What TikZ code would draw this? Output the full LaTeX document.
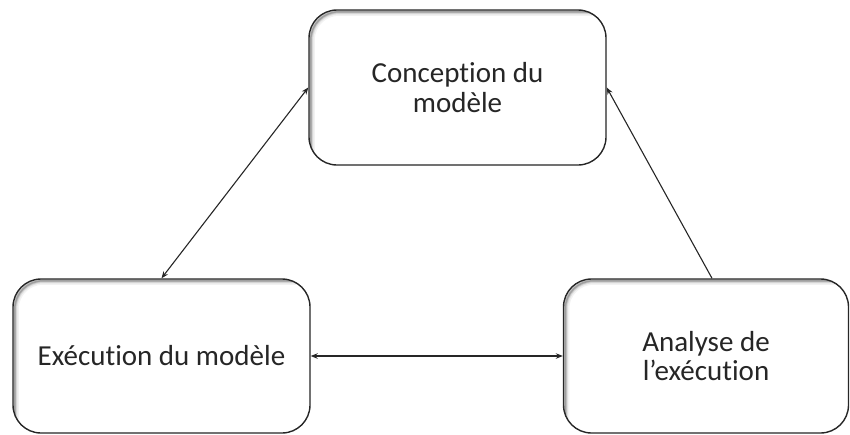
\documentclass[tikz,border=0pt]{standalone}
\usepackage{fontspec}
\setmainfont[Ligatures=NoCommon]{Carlito}
\usetikzlibrary{arrows.meta}
\begin{document}
\begin{tikzpicture}[x=1pt,y=-1pt,
  innershade/.style={black, rounded corners=28pt},
  stagebox/.style={draw=black!85, line width=1.4pt, rounded corners=28pt,
    fill=white, align=center, text=black!85,
    font=\fontsize{29}{29.5}\selectfont, inner sep=0pt,
    path picture={
      \foreach \w/\o in {8pt/.05, 5pt/.08, 3pt/.12, 1.5pt/.18}{
        \draw[innershade, line width=\w, opacity=\o]
          ([shift={(1.8pt,-1.8pt)}]path picture bounding box.north west)
          rectangle ([shift={(30pt,-30pt)}]path picture bounding box.south east);
      }
    }},
  link/.style={draw=black!85, line width=1.1pt},
  tips/.style={{Stealth[length=7pt,width=5.5pt]}-{Stealth[length=7pt,width=5.5pt]}},
  tip/.style={-{Stealth[length=7pt,width=5.5pt]}}
]
\useasboundingbox (0,0) rectangle (850,434);
% the three stages of the cycle
\node[stagebox, minimum width=297pt, minimum height=155pt] (concept) at (457.5,87.5)
  {Conception du\\modèle};
\node[stagebox, minimum width=297pt, minimum height=154pt] (exec) at (161.5,356)
  {Exécution du modèle};
\node[stagebox, minimum width=285pt, minimum height=154pt] (analyse) at (706,356)
  {Analyse de\\l’exécution};
% connectors between the stages
\draw[link, tips] (concept.west) -- (exec.north);
\draw[link, tips] (exec.east) -- (analyse.west);
\draw[link, tip] ([xshift=6pt]analyse.north) -- (concept.east);
\end{tikzpicture}
\end{document}
